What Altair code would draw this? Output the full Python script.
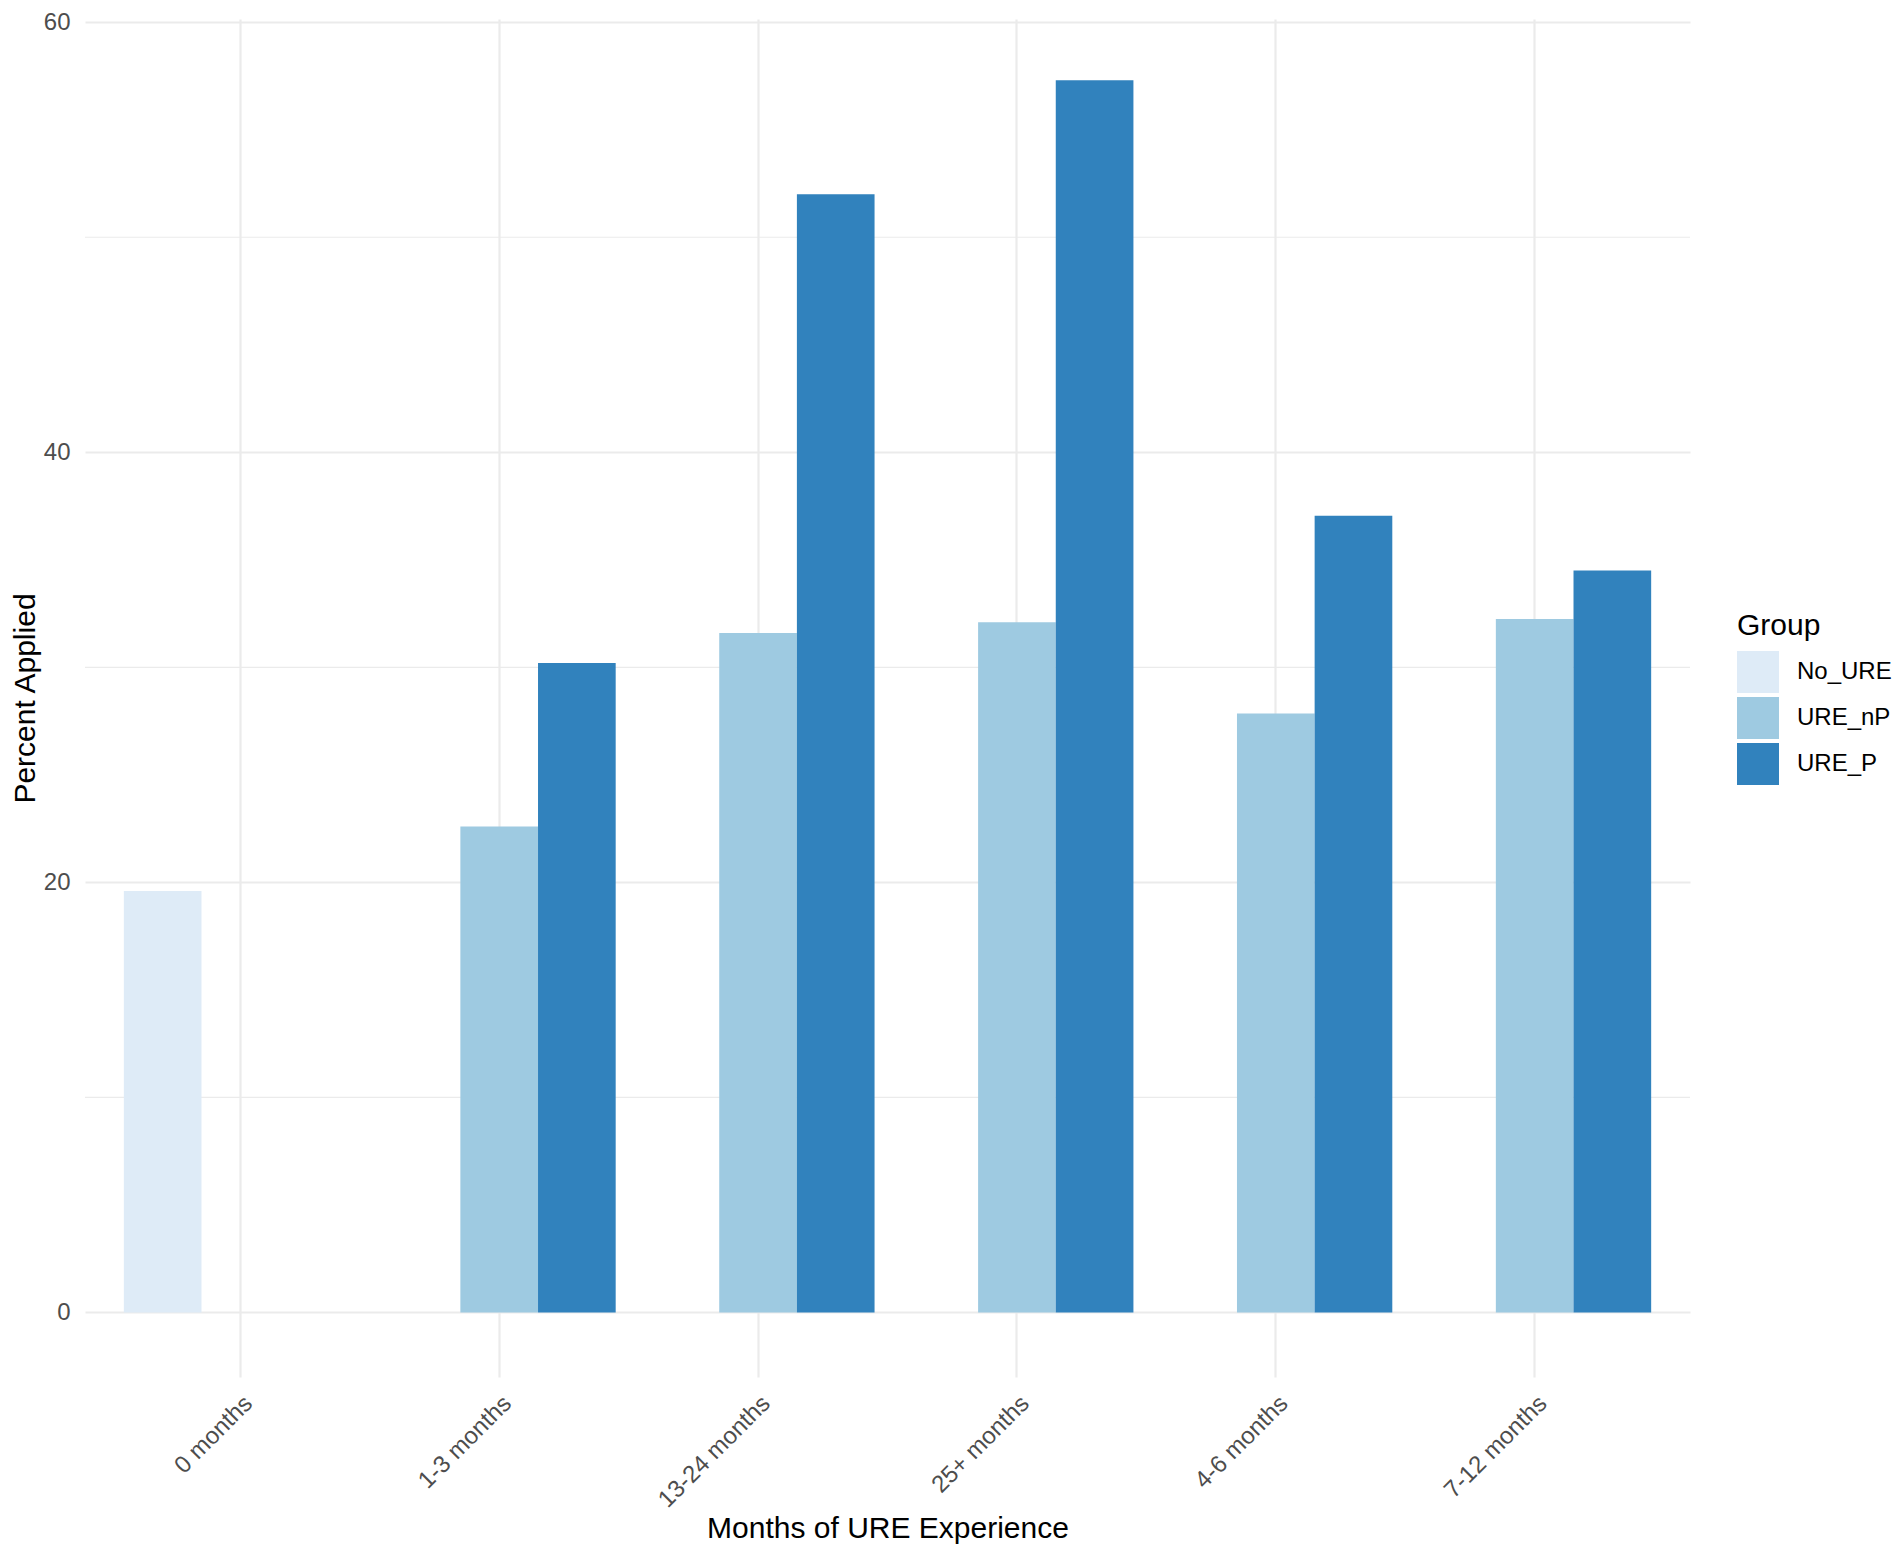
import altair as alt
import pandas as pd

# ---- data ----
categories = ["0 months", "1-3 months", "13-24 months", "25+ months", "4-6 months", "7-12 months"]
groups = ["No_URE", "URE_nP", "URE_P"]
colors = ["#DEEBF7", "#9ECAE1", "#3182BD"]

no_ure = {"0 months": 19.6}
ure_np = {"1-3 months": 22.6, "13-24 months": 31.6, "25+ months": 32.1,
          "4-6 months": 27.85, "7-12 months": 32.25}
ure_p = {"1-3 months": 30.2, "13-24 months": 52.0, "25+ months": 57.3,
         "4-6 months": 37.05, "7-12 months": 34.5}

y_ticks = [0, 20, 40, 60]
minor_ticks = [10, 30, 50]

rows = []
for name, series in zip(groups, [no_ure, ure_np, ure_p]):
    for cat, v in series.items():
        rows.append({"months": cat, "Group": name, "pct": v})
df = pd.DataFrame(rows)
minor_df = pd.DataFrame({"pct": minor_ticks})

FONT = "Liberation Sans"
GRID = "#EBEBEB"

y_scale = alt.Scale(domain=[-3, 60.15], nice=False, zero=False)
y_axis = alt.Axis(values=y_ticks, grid=True, gridColor=GRID, gridWidth=2.2,
                  domain=False, ticks=False, tickSize=0, labelPadding=15,
                  labelFontSize=24, labelColor="#4D4D4D", labelFont=FONT,
                  title="Percent Applied", titleFontSize=30, titleFont=FONT,
                  titleFontWeight="normal", titleColor="#000000",
                  titleAngle=270, titleX=-60, titleY=679,
                  titleBaseline="middle", titleAlign="center")

minor = alt.Chart(minor_df).mark_rule(color=GRID, strokeWidth=1.2).encode(
    y=alt.Y("pct:Q", scale=y_scale, axis=y_axis)
)

bars = alt.Chart(df).mark_bar().encode(
    x=alt.X("months:N", sort=categories,
            scale=alt.Scale(domain=categories, paddingInner=0.1, paddingOuter=0.15),
            axis=alt.Axis(grid=True, gridColor=GRID, gridWidth=2.2, bandPosition=0.5,
                          domain=False, ticks=False, tickSize=0,
                          labelAngle=-45, labelAlign="right", labelBaseline="top",
                          labelPadding=14, labelFontSize=24, labelColor="#4D4D4D",
                          labelFont=FONT,
                          title="Months of URE Experience", titleFontSize=30,
                          titleFont=FONT, titleFontWeight="normal",
                          titleColor="#000000", titleY=151, titleBaseline="middle")),
    xOffset=alt.XOffset("Group:N", sort=groups,
                        scale=alt.Scale(domain=groups, paddingInner=0, paddingOuter=0)),
    y=alt.Y("pct:Q", scale=y_scale, axis=y_axis),
    color=alt.Color("Group:N", sort=groups,
                    scale=alt.Scale(domain=groups, range=colors),
                    legend=alt.Legend(orient="none", legendX=1652, legendY=592,
                                      title="Group", titleFontSize=30, titleFont=FONT,
                                      titleFontWeight="normal", titleColor="#000000",
                                      titlePadding=10,
                                      labelFontSize=24, labelFont=FONT,
                                      labelColor="#000000", labelOffset=18,
                                      symbolType="square", symbolSize=1764,
                                      symbolStrokeWidth=0, symbolOpacity=1,
                                      rowPadding=4)),
)

chart = alt.layer(minor, bars).properties(
    width=1605,
    height=1358,
    autosize=alt.AutoSizeParams(type="none"),
    padding={"left": 77, "top": 11, "right": 204, "bottom": 168},
    background="white",
).configure_view(stroke=None)

chart.save("out.html", embed_options={"renderer": "svg", "actions": False})
